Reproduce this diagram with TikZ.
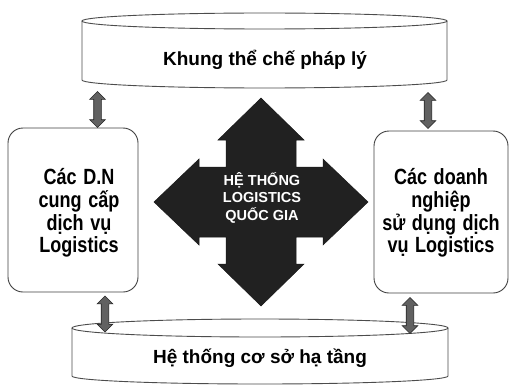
\documentclass[tikz,border=0pt]{standalone}
\usepackage{fontspec}
\setmainfont{Liberation Sans}
\newfontfamily\narrowsans[FakeStretch=0.82,WordSpace=1.3]{Liberation Sans}
\usetikzlibrary{shapes.arrows}
\begin{document}
\begin{tikzpicture}[x=1pt,y=-1pt,
  cylline/.style={draw=black!70, line width=0.9pt, fill=white},
  boxnode/.style={draw=black!75, line width=0.9pt, rounded corners=15pt, fill=white},
  boxlbl/.style={font=\narrowsans\bfseries\fontsize{22}{22.8}\selectfont, align=center, inner sep=0pt},
  cyllbl/.style={font=\bfseries\fontsize{19}{23}\selectfont, inner sep=0pt},
  quadarrow/.style={fill=black!87, draw=black!90, line width=0.5pt},
  quadlbl/.style={font=\bfseries\fontsize{14.5}{17.5}\selectfont, text=white, align=center, inner sep=0pt},
  dbl/.style={double arrow, draw=black!85, fill=black!62, line width=0.6pt,
    inner xsep=0pt, inner ysep=3.5pt, double arrow head extend=4pt,
    minimum height=36pt, rotate=90}
]
\useasboundingbox (0,0) rectangle (510,385);

% top cylinder
\draw[cylline] (82,21) -- (82,80) arc[start angle=180,end angle=360,x radius=182.5pt,y radius=8pt] -- (447,21);
\draw[cylline] (264.5,21) ellipse[x radius=182.5pt, y radius=8pt];
\node[cyllbl] (top) at (265,60) {Khung thể chế pháp lý};

% bottom cylinder
\draw[cylline] (72,328) -- (72,376) arc[start angle=180,end angle=360,x radius=188pt,y radius=8pt] -- (448,328);
\draw[cylline] (260,328) ellipse[x radius=188pt, y radius=9pt];
\node[cyllbl] (bottom) at (260,358) {Hệ thống cơ sở hạ tầng};

% side boxes
\node[boxnode, minimum width=130pt, minimum height=164pt] (lbox) at (73,210) {};
\node[boxlbl] (ltext) at (79,213) {Các D.N\\cung cấp\\dịch vụ\\Logistics};
\node[boxnode, minimum width=134pt, minimum height=162pt] (rbox) at (441,212) {};
\node[boxlbl] (rtext) at (441,213) {Các doanh\\nghiệp\\sử dụng dịch\\vụ Logistics};

% central quad arrow
\begin{scope}[shift={(261,202)}]
\draw[quadarrow] (0,-104) -- (43,-62) -- (35,-62) -- (35,-35) -- (62,-35) -- (62,-43) -- (107,0)
  -- (62,43) -- (62,35) -- (35,35) -- (35,62) -- (43,62) -- (0,104) -- (-43,62) -- (-35,62)
  -- (-35,35) -- (-62,35) -- (-62,43) -- (-107,0) -- (-62,-43) -- (-62,-35) -- (-35,-35)
  -- (-35,-62) -- (-43,-62) -- cycle;
\end{scope}
\node[quadlbl] (core) at (262,197.5) {HỆ THỐNG\\LOGISTICS\\QUỐC GIA};

% small double arrows
\node[dbl] (a1) at (97.5,109.5) {};
\node[dbl] (a2) at (428,110.5) {};
\node[dbl] (a3) at (105,314) {};
\node[dbl] (a4) at (410,315.5) {};
\end{tikzpicture}
\end{document}
